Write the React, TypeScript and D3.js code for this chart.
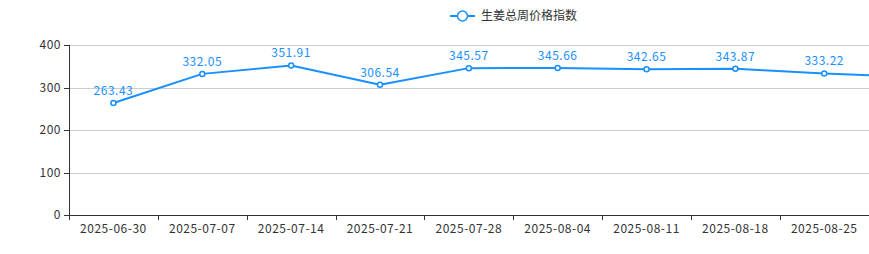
import React from "react";
import * as d3 from "d3";

const categories = [
  "2025-06-30", "2025-07-07", "2025-07-14", "2025-07-21", "2025-07-28",
  "2025-08-04", "2025-08-11", "2025-08-18", "2025-08-25", "2025-09-01",
];
const values = [263.43, 332.05, 351.91, 306.54, 345.57, 345.66, 342.65, 343.87, 333.22, 324.1];
const yTicks = [0, 100, 200, 300, 400];
const seriesName = "生姜总周价格指数";

const W = 869;
const H = 254;
const left = 69;
const bandW = 88.85;
const top = 45;
const bottom = 215;
const color = "#1890ff";
const font = "'Microsoft YaHei', 'Noto Sans CJK SC', sans-serif";
const numSpacing = 0.5;

export default function App() {
  const x = d3.scaleBand<string>().domain(categories).range([left, left + bandW * categories.length]).padding(0);
  const y = d3.scaleLinear().domain([0, 400]).range([bottom, top]);
  const cx = (c: string) => (x(c) as number) + x.bandwidth() / 2;
  const line = d3.line<number>().x((_, i) => cx(categories[i])).y((d) => y(d));
  const boundaries = categories.map((c) => x(c) as number).concat([left + bandW * categories.length]);
  const visible = (c: string) => cx(c) < W;

  return (
    <svg width={W} height={H} style={{ position: "absolute", left: 0, top: 0, fontFamily: font }}>
      {/* legend */}
      <g>
        <line x1={450} x2={475} y1={16} y2={16} stroke={color} strokeWidth={2} />
        <circle cx={462.5} cy={16} r={5} fill="#fff" stroke={color} strokeWidth={1.5} />
        <text x={481} y={20} fontSize={12} fill="#333">{seriesName}</text>
      </g>
      {/* grid */}
      {yTicks.map((t) => (
        <g key={t}>
          {t !== 0 && <line x1={left} x2={W} y1={Math.round(y(t)) + 0.5} y2={Math.round(y(t)) + 0.5} stroke="#ccc" />}
          <line x1={left - 5} x2={left} y1={Math.round(y(t)) + 0.5} y2={Math.round(y(t)) + 0.5} stroke="#333" />
          <text x={left - 8} y={y(t) + 4} fontSize={12} fill="#333" textAnchor="end" letterSpacing={numSpacing}>{t}</text>
        </g>
      ))}
      {/* axes */}
      <line x1={left + 0.5} x2={left + 0.5} y1={top} y2={bottom} stroke="#333" />
      <line x1={left} x2={W} y1={bottom + 0.5} y2={bottom + 0.5} stroke="#333" />
      {boundaries.map((b, i) => (
        <line key={i} x1={Math.round(b) + 0.5} x2={Math.round(b) + 0.5} y1={bottom} y2={bottom + 5} stroke="#333" />
      ))}
      {categories.filter(visible).map((c) => (
        <text key={c} x={cx(c)} y={233} fontSize={12} fill="#333" textAnchor="middle" letterSpacing={numSpacing}>{c}</text>
      ))}
      {/* series */}
      <path d={line(values) || ""} fill="none" stroke={color} strokeWidth={2} strokeLinejoin="round" />
      {values.map((v, i) => (
        <g key={i}>
          <circle cx={cx(categories[i])} cy={y(v)} r={2.5} fill="#fff" stroke={color} strokeWidth={1.5} />
          {visible(categories[i]) && (
            <text x={cx(categories[i])} y={y(v) - 8} fontSize={12} fill={color} textAnchor="middle" letterSpacing={numSpacing}>{v.toFixed(2)}</text>
          )}
        </g>
      ))}
    </svg>
  );
}
